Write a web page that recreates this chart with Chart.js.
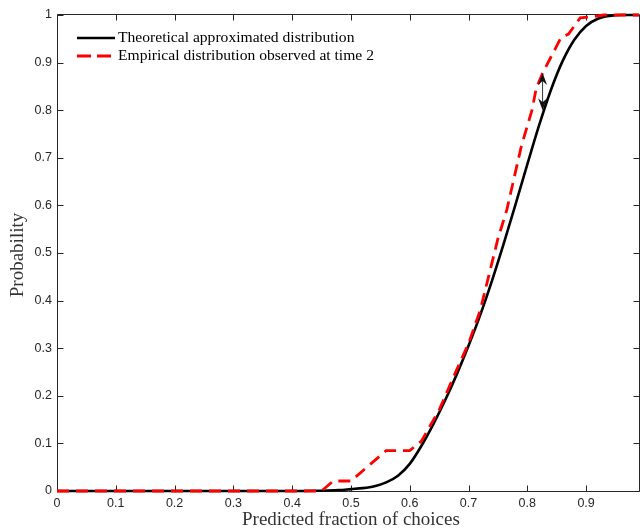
<!DOCTYPE html>
<html>
<head>
<meta charset="utf-8">
<script src="https://cdn.jsdelivr.net/npm/chart.js@4.4.1/dist/chart.umd.min.js"></script>
<style>
  html, body { margin: 0; padding: 0; background: #fff; }
  .wrap { width: 640px; height: 531px; }
</style>
</head>
<body>
<div class="wrap"><canvas id="cdf"></canvas></div>
<script>
// predicted fraction of choices (x) against cumulative probability (y)
const theoryX = [0, 0.40, 0.44, 0.46, 0.48, 0.50, 0.52, 0.54, 0.56, 0.58, 0.60, 0.62, 0.64, 0.66, 0.68,
  0.70, 0.72, 0.74, 0.76, 0.78, 0.80, 0.82, 0.84, 0.86, 0.88, 0.90, 0.92, 0.94, 0.96, 0.99];
const theoryY = [0, 0, 0.0005, 0.001, 0.002, 0.004, 0.006, 0.010, 0.018, 0.032, 0.057, 0.095, 0.14, 0.19, 0.245,
  0.305, 0.37, 0.442, 0.52, 0.602, 0.686, 0.768, 0.842, 0.903, 0.948, 0.977, 0.992, 0.998, 1, 1];

const empiricalX = [0, 0.45, 0.47, 0.50, 0.56, 0.60, 0.62, 0.65, 0.68, 0.70, 0.72, 0.75, 0.765, 0.79, 0.808,
  0.815, 0.826, 0.845, 0.857, 0.87, 0.89, 0.905, 0.92, 0.93, 0.99];
const empiricalY = [0, 0, 0.021, 0.021, 0.085, 0.085, 0.105, 0.17, 0.255, 0.31, 0.38, 0.53, 0.59, 0.725, 0.80,
  0.845, 0.878, 0.923, 0.952, 0.96, 0.994, 0.996, 0.998, 1, 1];

const seriesNames = ['Theoretical approximated distribution', 'Empirical distribution observed at time 2'];

const xTicks = [0, 0.1, 0.2, 0.3, 0.4, 0.5, 0.6, 0.7, 0.8, 0.9];
const yTicks = [0, 0.1, 0.2, 0.3, 0.4, 0.5, 0.6, 0.7, 0.8, 0.9, 1];

// largest vertical gap between the two curves: x, then lower and upper y
const gapX = 0.826;
const gapY = [0.80, 0.878];

const axisColor = '#262626';
const pts = (xs, ys) => xs.map((v, i) => ({ x: v, y: ys[i] }));

// box around the axes with inward ticks on all four sides
const framePlugin = {
  id: 'frame',
  beforeDatasetsDraw(chart) {
    const { ctx, chartArea: a, scales: { x, y } } = chart;
    const L = a.left + 0.5, R = a.right + 0.5, T = a.top - 0.5, B = a.bottom + 0.5;
    ctx.save();
    ctx.strokeStyle = axisColor;
    ctx.lineWidth = 1;
    ctx.beginPath();
    ctx.rect(L, T, R - L, B - T);
    xTicks.forEach(v => {
      const p = Math.round(x.getPixelForValue(v)) + 0.5;
      ctx.moveTo(p, B); ctx.lineTo(p, B - 6);
      ctx.moveTo(p, T); ctx.lineTo(p, T + 6);
    });
    yTicks.forEach(v => {
      const p = Math.round(y.getPixelForValue(v)) + 0.5;
      ctx.moveTo(L, p); ctx.lineTo(L + 6, p);
      ctx.moveTo(R, p); ctx.lineTo(R - 6, p);
    });
    ctx.stroke();
    ctx.restore();
  },
  afterDatasetsDraw(chart) {
    const { ctx, scales: { x, y } } = chart;
    const px = x.getPixelForValue(gapX);
    const lo = y.getPixelForValue(gapY[0]);
    const hi = y.getPixelForValue(gapY[1]);
    const head = (tip, dir) => {
      ctx.beginPath();
      ctx.moveTo(px, tip);
      ctx.lineTo(px - 4.5, tip + dir * 12);
      ctx.lineTo(px, tip + dir * 8);
      ctx.lineTo(px + 4.5, tip + dir * 12);
      ctx.closePath();
      ctx.fill();
    };
    ctx.save();
    ctx.strokeStyle = '#333';
    ctx.fillStyle = '#111';
    ctx.lineWidth = 1;
    ctx.beginPath();
    ctx.moveTo(px, hi + 8);
    ctx.lineTo(px, lo - 8);
    ctx.stroke();
    head(hi, 1);
    head(lo, -1);
    ctx.restore();
  },
  afterDraw(chart) {
    const { ctx, scales: { x, y } } = chart;
    ctx.save();
    // legend
    ctx.font = '15.6px "Liberation Serif"';
    ctx.textBaseline = 'middle';
    ctx.fillStyle = '#000';
    ctx.lineWidth = 2.6;
    ctx.strokeStyle = '#000';
    ctx.beginPath(); ctx.moveTo(77, 38); ctx.lineTo(115, 38); ctx.stroke();
    ctx.fillText(seriesNames[0], 118, 38);
    ctx.strokeStyle = '#ff0000';
    ctx.lineWidth = 2.8;
    ctx.setLineDash([14, 6]);
    ctx.beginPath(); ctx.moveTo(77, 56); ctx.lineTo(113, 56); ctx.stroke();
    ctx.setLineDash([]);
    ctx.fillText(seriesNames[1], 118, 56);

    // axis titles
    ctx.fillStyle = '#333';
    ctx.font = '19px "Liberation Serif"';
    ctx.textAlign = 'center';
    ctx.fillText('Predicted fraction of choices', x.getPixelForValue(0.5), 520);
    ctx.translate(18, (y.top + y.bottom) / 2 + 2);
    ctx.rotate(-Math.PI / 2);
    ctx.fillText('Probability', 0, 0);
    ctx.restore();
  }
};

const tickFont = { family: 'Liberation Sans', size: 12.5 };

new Chart(document.getElementById('cdf'), {
  type: 'line',
  data: {
    datasets: [
      {
        label: seriesNames[0],
        data: pts(theoryX, theoryY),
        borderColor: '#000',
        borderWidth: 2.6,
        pointRadius: 0,
        cubicInterpolationMode: 'monotone',
        clip: false,
        order: 2
      },
      {
        label: seriesNames[1],
        data: pts(empiricalX, empiricalY),
        borderColor: '#ff0000',
        borderWidth: 2.8,
        borderDash: [12, 7],
        pointRadius: 0,
        tension: 0,
        clip: false,
        order: 1
      }
    ]
  },
  options: {
    responsive: true,
    maintainAspectRatio: false,
    animation: false,
    layout: { padding: { top: 15, right: 1, left: 0, bottom: 0 } },
    plugins: {
      legend: { display: false },
      tooltip: { enabled: false }
    },
    scales: {
      x: {
        type: 'linear',
        min: 0,
        max: 0.99,
        afterBuildTicks: s => { s.ticks = xTicks.map(v => ({ value: v })); },
        afterFit: s => { s.height = 40; },
        grid: { display: false, drawTicks: false, tickLength: 0 },
        border: { display: false },
        ticks: { color: axisColor, font: tickFont, padding: 5, maxRotation: 0, autoSkip: false, callback: v => String(v) }
      },
      y: {
        type: 'linear',
        min: 0,
        max: 1,
        afterBuildTicks: s => { s.ticks = yTicks.map(v => ({ value: v })); },
        afterFit: s => { s.width = 57; },
        grid: { display: false, drawTicks: false, tickLength: 0 },
        border: { display: false },
        ticks: { color: axisColor, font: tickFont, padding: 5, autoSkip: false, callback: v => String(v) }
      }
    }
  },
  plugins: [framePlugin]
});
</script>
</body>
</html>
